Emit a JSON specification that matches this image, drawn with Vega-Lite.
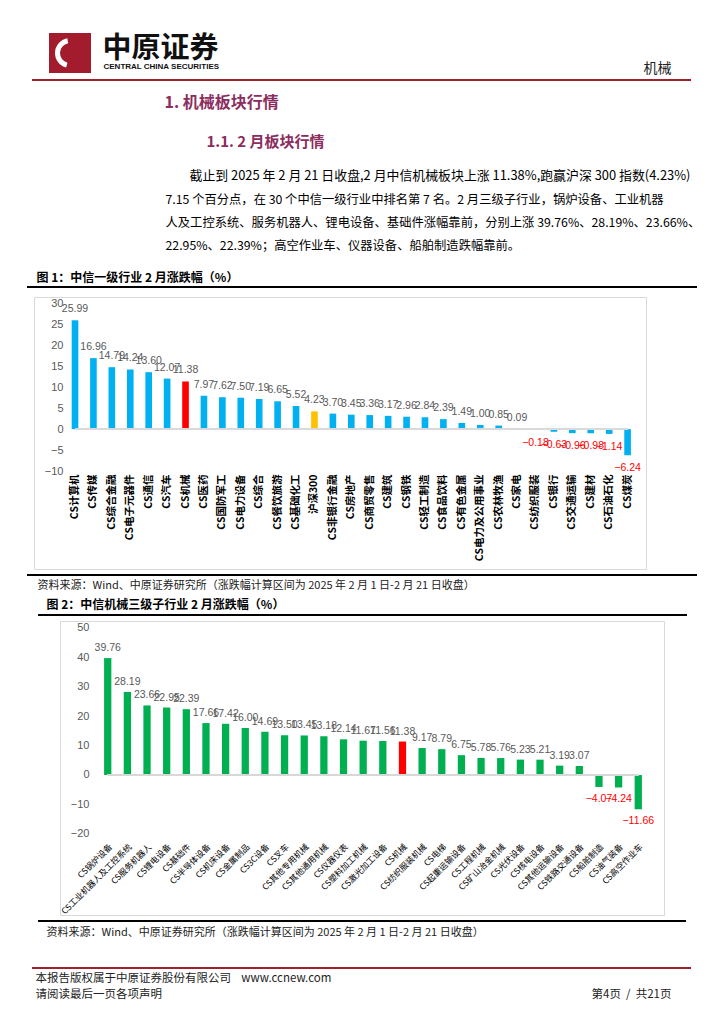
{
"$schema": "https://vega.github.io/schema/vega-lite/v6.json",
"padding": 0,
"background": "#ffffff",
"config": {"view": {"stroke": null}, "font": "Noto Sans CJK SC"},
"spacing": 0,
"vconcat": [
 {"width": 1, "height": 33, "data": {"values": []}, "mark": {"type": "text", "text": ""}, "encoding": {}},
 {"hconcat": [
   {"width": 49, "height": 44, "data": {"values": []}, "mark": {"type": "text", "text": ""}, "encoding": {}},
   {"width": 42, "height": 40, "view": {"fill": "#A21C2E", "stroke": null}, "data": {"values": [{}]}, "mark": {"type": "arc", "radius": 15, "radius2": 10, "theta": 3.4, "theta2": 6.1, "color": "#ffffff"}, "encoding": {}},
   {"width": 11, "height": 40, "data": {"values": []}, "mark": {"type": "text", "text": ""}, "encoding": {}},
   {"width": 1, "height": 32, "data": {"values": [{"t": "中原证券"}]}, "mark": {"type": "text", "align": "left", "baseline": "middle", "fontSize": 29, "fontWeight": "bold", "color": "#111111"}, "encoding": {"text": {"field": "t", "type": "nominal"}}},
   {"width": 1, "height": 44, "data": {"values": [{"t": "CENTRAL CHINA SECURITIES"}]}, "mark": {"type": "text", "align": "left", "baseline": "middle", "dy": 12, "font": "Liberation Sans", "fontSize": 8, "fontWeight": "bold", "color": "#111111"}, "encoding": {"text": {"field": "t", "type": "nominal"}}},
   {"width": 539, "height": 40, "data": {"values": []}, "mark": {"type": "text", "text": ""}, "encoding": {}},
   {"width": 1, "height": 44, "data": {"values": [{"t": "机械"}]}, "mark": {"type": "text", "align": "left", "baseline": "middle", "dy": 14, "fontSize": 14, "color": "#222222"}, "encoding": {"text": {"field": "t", "type": "nominal"}}}
 ], "spacing": 0, "bounds": "flush"},
 {"width": 1, "height": 2, "data": {"values": []}, "mark": {"type": "text", "text": ""}, "encoding": {}},
 {"hconcat": [
   {"width": 32, "height": 2, "data": {"values": []}, "mark": {"type": "text", "text": ""}, "encoding": {}},
   {"width": 659, "height": 2, "view": {"fill": "#A0202E", "stroke": null}, "data": {"values": []}, "mark": {"type": "text", "text": ""}, "encoding": {}}
 ], "spacing": 0, "bounds": "flush"},
 {"width": 1, "height": 13, "data": {"values": []}, "mark": {"type": "text", "text": ""}, "encoding": {}},
 {"hconcat": [
   {"width": 164, "height": 17, "data": {"values": []}, "mark": {"type": "text", "text": ""}, "encoding": {}},
   {"width": 1, "height": 17, "data": {"values": [{"t": "1. 机械板块行情"}]}, "mark": {"type": "text", "align": "left", "baseline": "middle", "fontSize": 16, "fontWeight": "bold", "color": "#8B2D5E"}, "encoding": {"text": {"field": "t", "type": "nominal"}}}
 ], "spacing": 0, "bounds": "flush"},
 {"width": 1, "height": 23, "data": {"values": []}, "mark": {"type": "text", "text": ""}, "encoding": {}},
 {"hconcat": [
   {"width": 206, "height": 16, "data": {"values": []}, "mark": {"type": "text", "text": ""}, "encoding": {}},
   {"width": 1, "height": 16, "data": {"values": [{"t": "1.1. 2 月板块行情"}]}, "mark": {"type": "text", "align": "left", "baseline": "middle", "fontSize": 15, "fontWeight": "bold", "color": "#8B2D5E"}, "encoding": {"text": {"field": "t", "type": "nominal"}}}
 ], "spacing": 0, "bounds": "flush"},
 {"width": 1, "height": 14, "data": {"values": []}, "mark": {"type": "text", "text": ""}, "encoding": {}},
 {"hconcat": [
   {"width": 189, "height": 24, "data": {"values": []}, "mark": {"type": "text", "text": ""}, "encoding": {}},
   {"width": 1, "height": 24, "data": {"values": [{"t": "截止到 2025 年 2 月 21 日收盘,2 月中信机械板块上涨 11.38%,跑赢沪深 300 指数(4.23%)"}]}, "mark": {"type": "text", "align": "left", "baseline": "middle", "fontSize": 12.9, "color": "#000000"}, "encoding": {"text": {"field": "t", "type": "nominal"}}}
 ], "spacing": 0, "bounds": "flush"},
 {"hconcat": [
   {"width": 165, "height": 69, "data": {"values": []}, "mark": {"type": "text", "text": ""}, "encoding": {}},
   {"width": 1, "height": 69, "data": {"values": [
     {"line": 2, "t": "7.15 个百分点，在 30 个中信一级行业中排名第 7 名。2 月三级子行业，锅炉设备、工业机器"},
     {"line": 3, "t": "人及工控系统、服务机器人、锂电设备、基础件涨幅靠前，分别上涨 39.76%、28.19%、23.66%、"},
     {"line": 4, "t": "22.95%、22.39%；高空作业车、仪器设备、船舶制造跌幅靠前。"}
   ]}, "mark": {"type": "text", "align": "left", "baseline": "middle", "fontSize": 12.3, "color": "#000000"},
   "encoding": {"y": {"field": "line", "type": "ordinal", "axis": null, "scale": {"type": "point", "padding": 0.5}}, "text": {"field": "t", "type": "nominal"}}}
 ], "spacing": 0, "bounds": "flush"},
 {"width": 1, "height": 13, "data": {"values": []}, "mark": {"type": "text", "text": ""}, "encoding": {}},
 {"hconcat": [
   {"width": 36, "height": 16, "data": {"values": []}, "mark": {"type": "text", "text": ""}, "encoding": {}},
   {"width": 1, "height": 16, "data": {"values": [{"t": "图 1：中信一级行业 2 月涨跌幅（%）"}]}, "mark": {"type": "text", "align": "left", "baseline": "middle", "fontSize": 12, "fontWeight": "bold", "color": "#000000"}, "encoding": {"text": {"field": "t", "type": "nominal"}}}
 ], "spacing": 0, "bounds": "flush"},
 {"hconcat": [
   {"width": 27, "height": 2, "data": {"values": []}, "mark": {"type": "text", "text": ""}, "encoding": {}},
   {"width": 670, "height": 2, "view": {"fill": "#000000", "stroke": null}, "data": {"values": []}, "mark": {"type": "text", "text": ""}, "encoding": {}}
 ], "spacing": 0, "bounds": "flush"},
 {"width": 1, "height": 8, "data": {"values": []}, "mark": {"type": "text", "text": ""}, "encoding": {}},
 {"hconcat": [
   {"width": 34, "height": 272, "data": {"values": []}, "mark": {"type": "text", "text": ""}, "encoding": {}},
   {"width": 612, "height": 272,
    "view": {"stroke": "#d9d9d9", "strokeWidth": 1},
    "data": {"values": [
      {"name": "CS计算机", "value": 25.99},
      {"name": "CS传媒", "value": 16.96},
      {"name": "CS综合金融", "value": 14.79},
      {"name": "CS电子元器件", "value": 14.24},
      {"name": "CS通信", "value": 13.60},
      {"name": "CS汽车", "value": 12.07},
      {"name": "CS机械", "value": 11.38},
      {"name": "CS医药", "value": 7.97},
      {"name": "CS国防军工", "value": 7.62},
      {"name": "CS电力设备", "value": 7.50},
      {"name": "CS综合", "value": 7.19},
      {"name": "CS餐饮旅游", "value": 6.65},
      {"name": "CS基础化工", "value": 5.52},
      {"name": "沪深300", "value": 4.23},
      {"name": "CS非银行金融", "value": 3.70},
      {"name": "CS房地产", "value": 3.45},
      {"name": "CS商贸零售", "value": 3.36},
      {"name": "CS建筑", "value": 3.17},
      {"name": "CS钢铁", "value": 2.96},
      {"name": "CS轻工制造", "value": 2.84},
      {"name": "CS食品饮料", "value": 2.39},
      {"name": "CS有色金属", "value": 1.49},
      {"name": "CS电力及公用事业", "value": 1.00},
      {"name": "CS农林牧渔", "value": 0.85},
      {"name": "CS家电", "value": 0.09},
      {"name": "CS纺织服装", "value": -0.18},
      {"name": "CS银行", "value": -0.63},
      {"name": "CS交通运输", "value": -0.96},
      {"name": "CS建材", "value": -0.98},
      {"name": "CS石油石化", "value": -1.14},
      {"name": "CS煤炭", "value": -6.24}
    ]},
    "encoding": {
      "x": {"field": "name", "type": "nominal", "sort": null,
        "scale": {"range": [31.8, 602.8], "paddingInner": 0.64, "paddingOuter": 0.32},
        "axis": {"orient": "bottom", "offset": -95, "labelAngle": -90, "domain": false, "ticks": false, "labelPadding": 0, "labelFont": "Noto Sans CJK SC", "labelFontSize": 10.5, "labelFontWeight": "bold", "labelColor": "#000000", "title": null, "labelOverlap": false, "labelLimit": 300}},
      "y": {"field": "value", "type": "quantitative",
        "scale": {"domain": [-33.4, 31.552], "nice": false, "zero": false},
        "axis": {"values": [-10, -5, 0, 5, 10, 15, 20, 25, 30], "offset": -33, "domain": false, "ticks": false, "grid": false, "labelPadding": 4, "labelFont": "Liberation Sans", "labelFontSize": 11, "labelColor": "#595959", "title": null}}
    },
    "layer": [
      {"mark": {"type": "bar"}, "encoding": {"color": {"condition": [{"test": "datum.name === 'CS机械'", "value": "#FF0000"}, {"test": "datum.name === '沪深300'", "value": "#FFC000"}], "value": "#00B0F0"}}},
      {"transform": [{"filter": "datum.value >= 0"}], "mark": {"type": "text", "baseline": "bottom", "dy": -6, "font": "Liberation Sans", "fontSize": 10.5, "color": "#595959"}, "encoding": {"text": {"field": "value", "type": "quantitative", "format": ".2f"}}},
      {"transform": [{"filter": "datum.value < 0"}], "mark": {"type": "text", "baseline": "top", "dy": 8, "font": "Liberation Sans", "fontSize": 10.5, "color": "#FF0000"}, "encoding": {"text": {"field": "value", "type": "quantitative", "format": ".2f"}}},
      {"mark": {"type": "rule", "color": "#d9d9d9", "strokeWidth": 1}, "encoding": {"x": {"datum": "CS计算机"}, "x2": {"datum": "CS煤炭"}, "y": {"datum": 0}}}
    ]
   }
 ], "spacing": 0, "bounds": "flush"},
 {"width": 1, "height": 4, "data": {"values": []}, "mark": {"type": "text", "text": ""}, "encoding": {}},
 {"hconcat": [
   {"width": 27, "height": 2, "data": {"values": []}, "mark": {"type": "text", "text": ""}, "encoding": {}},
   {"width": 670, "height": 2, "view": {"fill": "#000000", "stroke": null}, "data": {"values": []}, "mark": {"type": "text", "text": ""}, "encoding": {}}
 ], "spacing": 0, "bounds": "flush"},
 {"hconcat": [
   {"width": 37, "height": 20, "data": {"values": []}, "mark": {"type": "text", "text": ""}, "encoding": {}},
   {"width": 1, "height": 20, "data": {"values": [{"t": "资料来源：Wind、中原证券研究所（涨跌幅计算区间为 2025 年 2 月 1 日-2 月 21 日收盘）"}]}, "mark": {"type": "text", "align": "left", "baseline": "middle", "fontSize": 11, "color": "#222222"}, "encoding": {"text": {"field": "t", "type": "nominal"}}}
 ], "spacing": 0, "bounds": "flush"},
 {"hconcat": [
   {"width": 46, "height": 18, "data": {"values": []}, "mark": {"type": "text", "text": ""}, "encoding": {}},
   {"width": 1, "height": 18, "data": {"values": [{"t": "图 2：中信机械三级子行业 2 月涨跌幅（%）"}]}, "mark": {"type": "text", "align": "left", "baseline": "middle", "fontSize": 12, "fontWeight": "bold", "color": "#000000"}, "encoding": {"text": {"field": "t", "type": "nominal"}}}
 ], "spacing": 0, "bounds": "flush"},
 {"hconcat": [
   {"width": 38, "height": 2, "data": {"values": []}, "mark": {"type": "text", "text": ""}, "encoding": {}},
   {"width": 649, "height": 2, "view": {"fill": "#000000", "stroke": null}, "data": {"values": []}, "mark": {"type": "text", "text": ""}, "encoding": {}}
 ], "spacing": 0, "bounds": "flush"},
 {"width": 1, "height": 4, "data": {"values": []}, "mark": {"type": "text", "text": ""}, "encoding": {}},
 {"hconcat": [
   {"width": 60, "height": 294, "data": {"values": []}, "mark": {"type": "text", "text": ""}, "encoding": {}},
   {"width": 604, "height": 294,
    "view": {"stroke": "#d9d9d9", "strokeWidth": 1},
    "data": {"values": [
      {"name": "CS锅炉设备", "value": 39.76},
      {"name": "CS工业机器人及工控系统", "value": 28.19},
      {"name": "CS服务机器人", "value": 23.66},
      {"name": "CS锂电设备", "value": 22.95},
      {"name": "CS基础件", "value": 22.39},
      {"name": "CS半导体设备", "value": 17.66},
      {"name": "CS机床设备", "value": 17.42},
      {"name": "CS金属制品", "value": 16.00},
      {"name": "CS3C设备", "value": 14.69},
      {"name": "CS叉车", "value": 13.50},
      {"name": "CS其他专用机械", "value": 13.45},
      {"name": "CS其他通用机械", "value": 13.18},
      {"name": "CS仪器仪表", "value": 12.14},
      {"name": "CS塑料加工机械", "value": 11.67},
      {"name": "CS激光加工设备", "value": 11.56},
      {"name": "CS机械", "value": 11.38},
      {"name": "CS纺织服装机械", "value": 9.17},
      {"name": "CS电梯", "value": 8.79},
      {"name": "CS起重运输设备", "value": 6.75},
      {"name": "CS工程机械", "value": 5.78},
      {"name": "CS矿山冶金机械", "value": 5.76},
      {"name": "CS光伏设备", "value": 5.23},
      {"name": "CS核电设备", "value": 5.21},
      {"name": "CS其他运输设备", "value": 3.19},
      {"name": "CS铁路交通设备", "value": 3.07},
      {"name": "CS船舶制造", "value": -4.07},
      {"name": "CS油气装备", "value": -4.24},
      {"name": "CS高空作业车", "value": -11.66}
    ]},
    "encoding": {
      "x": {"field": "name", "type": "nominal", "sort": null,
        "scale": {"range": [37.9, 588.1], "paddingInner": 0.63, "paddingOuter": 0.315},
        "axis": {"orient": "bottom", "offset": -75, "labelAngle": -45, "domain": false, "ticks": false, "labelPadding": 2, "labelFont": "Noto Sans CJK SC", "labelFontSize": 8.5, "labelColor": "#000000", "title": null, "labelOverlap": false, "labelLimit": 300}},
      "y": {"field": "value", "type": "quantitative",
        "scale": {"domain": [-47.62, 52.38], "nice": false, "zero": false},
        "axis": {"values": [-20, -10, 0, 10, 20, 30, 40, 50], "offset": -33, "domain": false, "ticks": false, "grid": false, "labelPadding": 4, "labelFont": "Liberation Sans", "labelFontSize": 11, "labelColor": "#595959", "title": null}}
    },
    "layer": [
      {"mark": {"type": "bar"}, "encoding": {"color": {"condition": {"test": "datum.name === 'CS机械'", "value": "#FF0000"}, "value": "#00B050"}}},
      {"transform": [{"filter": "datum.value >= 0"}], "mark": {"type": "text", "baseline": "bottom", "dy": -5, "font": "Liberation Sans", "fontSize": 10.5, "color": "#595959"}, "encoding": {"text": {"field": "value", "type": "quantitative", "format": ".2f"}}},
      {"transform": [{"filter": "datum.value < 0"}], "mark": {"type": "text", "baseline": "top", "dy": 7, "font": "Liberation Sans", "fontSize": 10.5, "color": "#FF0000"}, "encoding": {"text": {"field": "value", "type": "quantitative", "format": ".2f"}}},
      {"mark": {"type": "rule", "color": "#d9d9d9", "strokeWidth": 1}, "encoding": {"x": {"datum": "CS锅炉设备"}, "x2": {"datum": "CS高空作业车"}, "y": {"datum": 0}}}
    ]
   }
 ], "spacing": 0, "bounds": "flush"},
 {"width": 1, "height": 4, "data": {"values": []}, "mark": {"type": "text", "text": ""}, "encoding": {}},
 {"hconcat": [
   {"width": 38, "height": 2, "data": {"values": []}, "mark": {"type": "text", "text": ""}, "encoding": {}},
   {"width": 648, "height": 2, "view": {"fill": "#000000", "stroke": null}, "data": {"values": []}, "mark": {"type": "text", "text": ""}, "encoding": {}}
 ], "spacing": 0, "bounds": "flush"},
 {"hconcat": [
   {"width": 46, "height": 22, "data": {"values": []}, "mark": {"type": "text", "text": ""}, "encoding": {}},
   {"width": 1, "height": 22, "data": {"values": [{"t": "资料来源：Wind、中原证券研究所（涨跌幅计算区间为 2025 年 2 月 1 日-2 月 21 日收盘）"}]}, "mark": {"type": "text", "align": "left", "baseline": "middle", "fontSize": 11, "color": "#222222"}, "encoding": {"text": {"field": "t", "type": "nominal"}}}
 ], "spacing": 0, "bounds": "flush"},
 {"width": 1, "height": 23, "data": {"values": []}, "mark": {"type": "text", "text": ""}, "encoding": {}},
 {"hconcat": [
   {"width": 32, "height": 2, "data": {"values": []}, "mark": {"type": "text", "text": ""}, "encoding": {}},
   {"width": 659, "height": 2, "view": {"fill": "#A0202E", "stroke": null}, "data": {"values": []}, "mark": {"type": "text", "text": ""}, "encoding": {}}
 ], "spacing": 0, "bounds": "flush"},
 {"hconcat": [
   {"width": 35, "height": 20, "data": {"values": []}, "mark": {"type": "text", "text": ""}, "encoding": {}},
   {"width": 1, "height": 20, "data": {"values": [{"t": "本报告版权属于中原证券股份有限公司\u00a0\u00a0\u00a0\u00a0www.ccnew.com"}]}, "mark": {"type": "text", "align": "left", "baseline": "middle", "fontSize": 11.5, "color": "#222222"}, "encoding": {"text": {"field": "t", "type": "nominal"}}}
 ], "spacing": 0, "bounds": "flush"},
 {"hconcat": [
   {"width": 35, "height": 12, "data": {"values": []}, "mark": {"type": "text", "text": ""}, "encoding": {}},
   {"width": 1, "height": 12, "data": {"values": [{"t": "请阅读最后一页各项声明"}]}, "mark": {"type": "text", "align": "left", "baseline": "middle", "fontSize": 11.5, "color": "#222222"}, "encoding": {"text": {"field": "t", "type": "nominal"}}},
   {"width": 555, "height": 12, "data": {"values": []}, "mark": {"type": "text", "text": ""}, "encoding": {}},
   {"width": 1, "height": 12, "data": {"values": [{"t": "第4页\u00a0\u00a0/\u00a0\u00a0共21页"}]}, "mark": {"type": "text", "align": "left", "baseline": "middle", "fontSize": 11.5, "color": "#222222"}, "encoding": {"text": {"field": "t", "type": "nominal"}}}
 ], "spacing": 0, "bounds": "flush"}
]
}
